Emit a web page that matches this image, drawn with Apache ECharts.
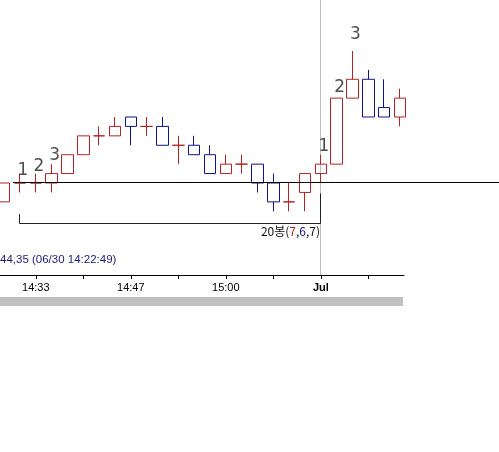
<!DOCTYPE html>
<html><head><meta charset="utf-8">
<script src="https://cdn.jsdelivr.net/npm/echarts@6/dist/echarts.min.js"></script>
<style>html,body{margin:0;padding:0;background:#fff}#c{width:499px;height:452px}</style>
</head><body><div id="c"></div>
<script>
// Candle values (price levels, one unit = one price tick)
const opens  = [98,100,100,100,101,103,105,105,107,106,106,104,104,103,101,102,102,100,98,99,101,102,109,111,108,107];
const closes = [100,100,100,101,103,105,105,106,106,106,104,104,103,101,102,102,100,98,98,101,102,109,111,107,107,109];
const lows   = [98,99,99,99,101,103,104,105,104,105,104,102,103,101,101,101,99,97,97,97,100,102,109,107,107,106];
const highs  = [100,101,101,102,103,105,106,107,107,107,107,105,105,104,103,103,102,101,100,101,103,109,114,112,111,110];

// Axis ticks / labels (candle index -> label)
const tickIndices = [2,5,8,11,14,17,20,23];
const labelIndices = [2,8,14,20];
const labelTexts = ['14:33','14:47','15:00','Jul'];

// Wave count markers
const markIdx   = [1,2,3,20,21,22];
const markText  = ['1','2','3','1','2','3'];
const markLevel = [101.4,101.8,103.0,104.0,110.2,115.8];

// Reference level, bracket range and info texts
const refLevel = 100;
const rangeStart = 1, rangeEnd = 20;
const infoText = '44,35 (06/30 14:22:49)';

const RED = '#b82024', BLUE = '#121290';

const chart = echarts.init(document.getElementById('c'), null, {renderer:'canvas'});
const candleData = opens.map((o,i)=>[i,o,closes[i],lows[i],highs[i]]);
const markData = markIdx.map((x,i)=>[x, markLevel[i], markText[i]]);

chart.setOption({
  animation:false,
  backgroundColor:'#fff',
  grid:{left:0, top:0, width:404, height:275, containLabel:false, outerBoundsMode:'none'},
  xAxis:{
    type:'value', min:-0.26, max:25.25,
    splitLine:{show:false},
    axisLine:{show:true, onZero:false, lineStyle:{color:'#000', width:1}},
    axisTick:{show:true, length:4, inside:false, customValues:tickIndices, lineStyle:{color:'#000', width:1}},
    axisLabel:{
      customValues:labelIndices, margin:7, color:'#000',
      fontFamily:'Liberation Sans', fontSize:11,
      formatter:function(v){
        const k = labelIndices.indexOf(Math.round(v));
        if (k < 0) return '';
        const t = labelTexts[k];
        return t === 'Jul' ? '{b|' + t + '}' : t;
      },
      rich:{b:{fontWeight:'bold', fontSize:11, fontFamily:'Liberation Sans', color:'#000'}}
    }
  },
  yAxis:{type:'value', min:90.244, max:119.406, show:false, scale:true},
  series:[
    {
      type:'candlestick', data:candleData, encode:{x:0, y:[1,2,3,4]},
      barWidth:12, z:3, clip:true,
      itemStyle:{color:'rgba(255,255,255,0)', color0:'rgba(255,255,255,0)',
        borderColor:RED, borderColor0:BLUE, borderColorDoji:RED, borderWidth:1},
      emphasis:{disabled:true}
    },
    {
      type:'scatter', data:markData, encode:{x:0, y:1}, symbolSize:1, z:4,
      itemStyle:{color:'rgba(0,0,0,0)'}, silent:true,
      label:{show:true, position:'inside', offset:[3,1],
        formatter:function(p){return p.value[2];},
        fontFamily:'DejaVu Sans', fontSize:17, color:'#222'}
    }
  ]
});

function crisp(v){ const d = Math.round(v*2); return (d % 2 === 0) ? (d-1)/2 : d/2; }
function px(x,y){ return chart.convertToPixel({gridIndex:0}, [x,y]); }

const yRef = crisp(px(0, refLevel)[1]);
const xLineStart = px(rangeStart, refLevel)[0] - 7;
const xS = crisp(px(rangeStart, refLevel)[0]);
const xE = crisp(px(rangeEnd, refLevel)[0]);
const yBr = crisp(px(0, 95.65)[1]);
const yBrL = px(0, 96.7)[1];
const yBrR = px(0, 98.9)[1];

chart.setOption({
  graphic:[
    {type:'line', z:1, silent:true, shape:{x1:xE, y1:0, x2:xE, y2:275}, style:{stroke:'#c0c0c0', lineWidth:1}},
    {type:'line', z:100, silent:true, shape:{x1:xLineStart, y1:yRef, x2:499, y2:yRef}, style:{stroke:'#000', lineWidth:1}},
    {type:'polyline', z:100, silent:true, shape:{points:[[xS,yBrL],[xS,yBr],[xE,yBr],[xE,yBrR]]}, style:{stroke:'#222', lineWidth:1, fill:null}},
    {type:'text', z:100, silent:true, x:xE-0.5, y:yBr+7.5,
      style:{text:'{k|20봉(}{r|7}{k|,}{u|6}{k|,7)}', align:'right', verticalAlign:'middle',
        rich:{
          k:{fontFamily:'Noto Sans CJK KR', fontSize:12, fill:'#111'},
          r:{fontFamily:'Noto Sans CJK KR', fontSize:12, fill:RED},
          u:{fontFamily:'Noto Sans CJK KR', fontSize:12, fill:BLUE}
        }}},
    {type:'text', z:100, silent:true, x:0, y:260,
      style:{text:infoText, fontFamily:'Liberation Sans', fontSize:11.5, fill:'#1a1a80', align:'left', verticalAlign:'middle'}},
    {type:'rect', z:100, silent:true, shape:{x:0, y:297, width:403, height:9}, style:{fill:'#c0c0c0'}}
  ]
});
</script>
</body></html>
